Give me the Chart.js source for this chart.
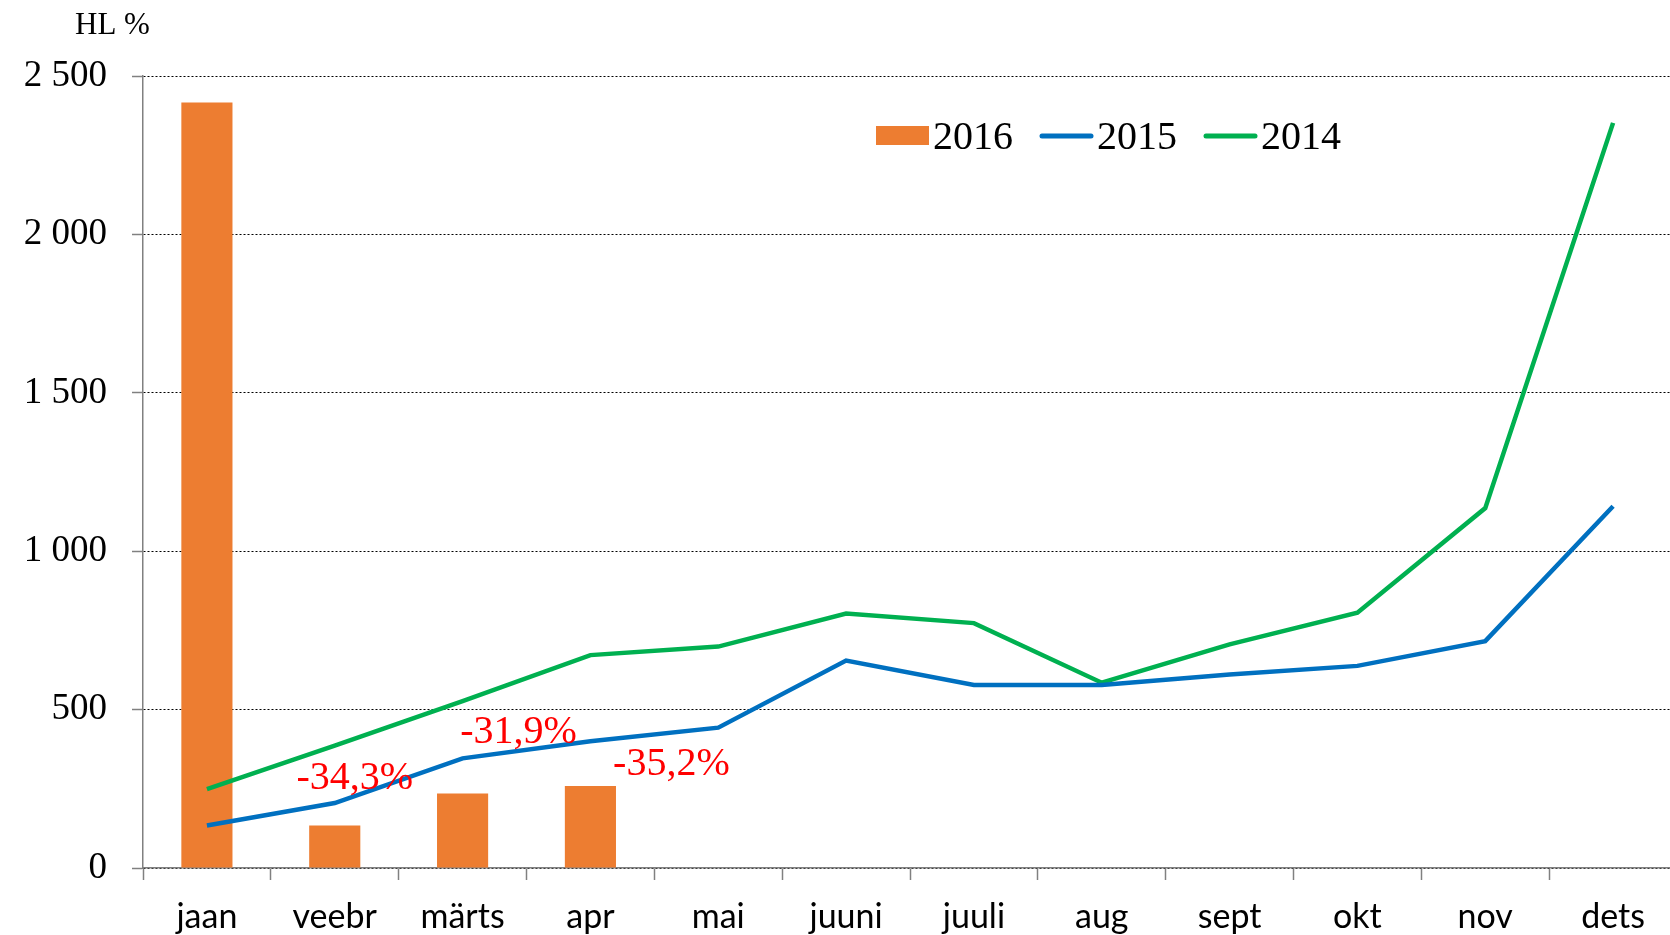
<!DOCTYPE html>
<html>
<head>
<meta charset="utf-8">
<script src="https://cdn.jsdelivr.net/npm/chart.js@4"></script>
<style>
  html, body { margin: 0; padding: 0; background: #fff; overflow: hidden; }
  #wrap { width: 1678px; height: 935px; }
</style>
</head>
<body>
<div id="wrap"><canvas id="chart"></canvas></div>
<script>
// months on the x axis
const months = ['jaan', 'veebr', 'märts', 'apr', 'mai', 'juuni', 'juuli', 'aug', 'sept', 'okt', 'nov', 'dets'];
// HL % per month
const values2016 = [2416, 134, 235, 259];
const values2015 = [134, 205, 346, 400, 443, 655, 578, 578, 611, 638, 716, 1142];
const values2014 = [249, 386, 527, 672, 699, 803, 773, 585, 706, 806, 1136, 2352];
const yTicks = [0, 500, 1000, 1500, 2000, 2500];
// change 2016 vs 2015
const noteTexts = ['-34,3%', '-31,9%', '-35,2%'];
const noteMonths = [1, 2, 3];

const serif = '"Liberation Serif", serif';

// legend + unit label + red notes drawn by hand
const extras = {
    id: 'extras',
    afterDraw(chart) {
        const ctx = chart.ctx;
        ctx.save();
        // unit label
        ctx.fillStyle = '#000';
        ctx.font = '31px ' + serif;
        ctx.textBaseline = 'middle';
        ctx.textAlign = 'left';
        ctx.fillText('HL %', 75, 26);

        // legend
        let x = 876;
        const y = 136;
        ctx.font = '40px ' + serif;
        chart.data.datasets.forEach(ds => {
            if (ds.type === 'bar') {
                ctx.fillStyle = ds.backgroundColor;
                ctx.fillRect(x, y - 10, 53, 19);
            } else {
                ctx.strokeStyle = ds.borderColor;
                ctx.lineWidth = 5;
                ctx.lineCap = 'round';
                ctx.beginPath();
                ctx.moveTo(x + 2, y);
                ctx.lineTo(x + 51, y);
                ctx.stroke();
            }
            ctx.fillStyle = '#000';
            ctx.fillText(ds.label, x + 57, y + 2);
            x += 57 + ctx.measureText(ds.label).width + 27;
        });

        // red notes
        const xs = chart.scales.x, ys = chart.scales.y;
        const dx = [20, 56, 81];
        const dy = [-90, -136, -104];
        ctx.fillStyle = '#FF0000';
        ctx.font = '40px ' + serif;
        ctx.textAlign = 'center';
        noteTexts.forEach((t, i) => {
            const px = xs.getPixelForValue(noteMonths[i]) + dx[i];
            const py = ys.getPixelForValue(0) + dy[i];
            ctx.fillText(t, px, py);
        });
        ctx.restore();
    }
};

const ctx = document.getElementById('chart').getContext('2d');
new Chart(ctx, {
    data: {
        labels: months,
        datasets: [{
            type: 'bar',
            label: '2016',
            data: values2016,
            backgroundColor: '#ED7D31',
            barPercentage: 0.8,
            categoryPercentage: 0.5,
            order: 2
        }, {
            type: 'line',
            label: '2015',
            data: values2015,
            borderColor: '#0070C0',
            backgroundColor: '#0070C0',
            borderWidth: 4.5,
            pointRadius: 0,
            tension: 0,
            order: 1
        }, {
            type: 'line',
            label: '2014',
            data: values2014,
            borderColor: '#00B050',
            backgroundColor: '#00B050',
            borderWidth: 4.5,
            pointRadius: 0,
            tension: 0,
            order: 1
        }]
    },
    options: {
        responsive: true,
        maintainAspectRatio: false,
        animation: false,
        layout: { padding: { top: 76, right: 1, left: 0, bottom: 0 } },
        plugins: {
            legend: { display: false },
            tooltip: { enabled: false }
        },
        scales: {
            x: {
                grid: {
                    offset: true,
                    drawOnChartArea: false,
                    tickLength: 12,
                    tickColor: '#808080',
                    tickWidth: 1.5
                },
                border: { color: '#808080', width: 1.5 },
                ticks: {
                    color: '#000',
                    font: { family: 'Lato', size: 34 },
                    padding: 17,
                    maxRotation: 0
                },
                afterFit(scale) { scale.height = 67; }
            },
            y: {
                min: 0,
                max: 2500,
                afterBuildTicks(scale) { scale.ticks = yTicks.map(v => ({ value: v })); },
                grid: {
                    color: '#000',
                    lineWidth: 1,
                    tickLength: 11,
                    tickColor: '#808080',
                    tickWidth: 1.5,
                    tickBorderDash: []
                },
                border: { color: '#808080', width: 1.5, dash: [2, 2] },
                ticks: {
                    color: '#000',
                    font: { family: 'Liberation Serif', size: 37 },
                    padding: 25,
                    callback: v => String(v).replace(/\B(?=(\d{3})+(?!\d))/g, ' ')
                },
                afterFit(scale) { scale.width = 143; }
            }
        }
    },
    plugins: [extras]
});
</script>
</body>
</html>
